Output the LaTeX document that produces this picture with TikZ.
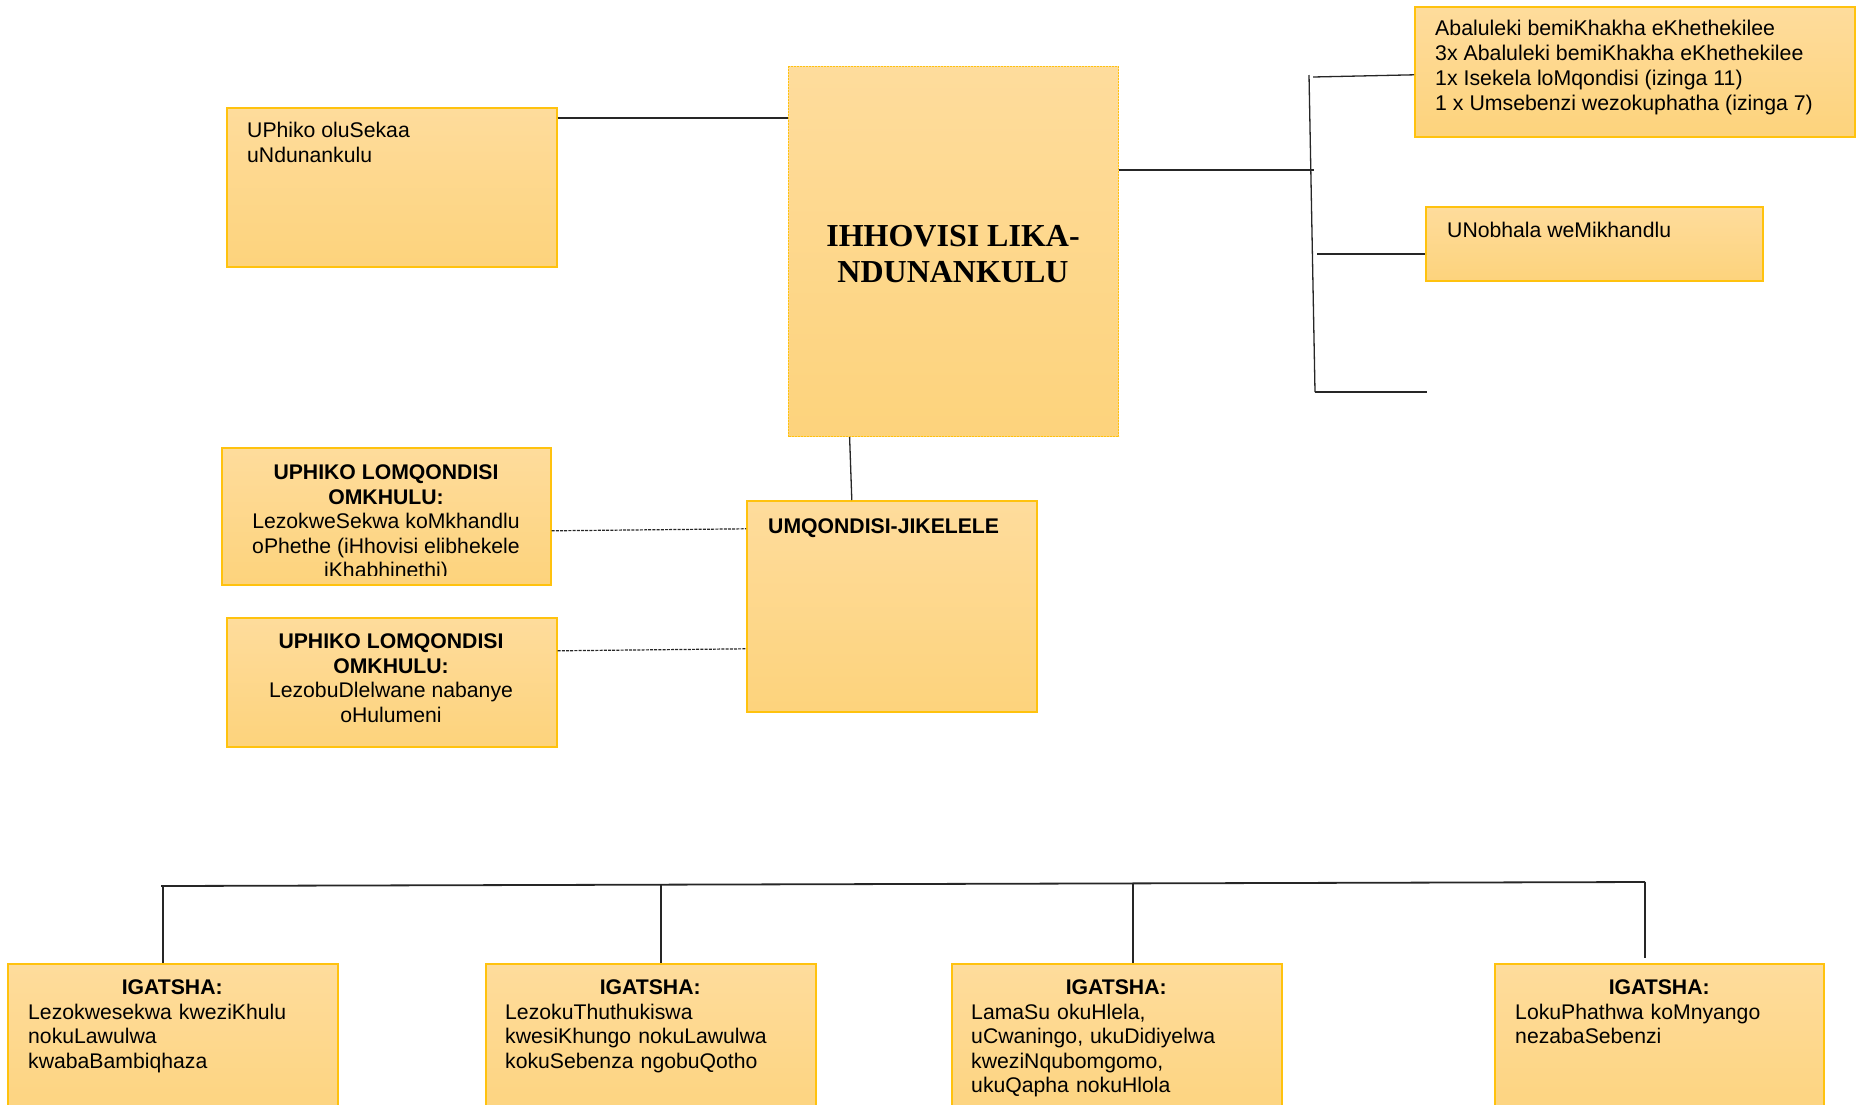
\documentclass[tikz,border=0pt]{standalone}
\usepackage{fontspec}
\setmainfont{Liberation Sans}
\newfontfamily\titlefont{Liberation Serif}
\definecolor{boxtop}{HTML}{FEDC9C}
\definecolor{boxbot}{HTML}{FDD37C}
\definecolor{boxline}{HTML}{FFC20E}
\tikzset{
  orgbox/.style={rectangle, draw=boxline, line width=1.6pt, top color=boxtop, bottom color=boxbot, inner sep=0pt, anchor=north west},
  mainbox/.style={orgbox, line width=1.2pt, dash pattern=on 2pt off 1pt},
  txt/.style={inner sep=0pt, font=\fontsize{21.2}{24.6}\selectfont, text=black},
  ltxt/.style={txt, align=left, anchor=north west},
  ctxt/.style={txt, align=center, anchor=north},
  conn/.style={draw=black!85, line width=1.3pt},
  busline/.style={draw=black!85, line width=1.8pt},
  dashconn/.style={draw=black!85, line width=1.2pt, dash pattern=on 3pt off 1.2pt},
}
\begin{document}
\begin{tikzpicture}[x=1pt,y=-1pt]
\useasboundingbox (0,0) rectangle (1859,1104);
\clip (0,0) rectangle (1859,1104);

% boxes
\node[orgbox, minimum width=330pt, minimum height=159pt] (sekaa) at (226,107) {};
\node[mainbox, minimum width=330pt, minimum height=370pt] (main) at (788,66) {};
\node[orgbox, minimum width=440pt, minimum height=130pt] (abal) at (1414,6) {};
\node[orgbox, minimum width=337pt, minimum height=74pt] (nob) at (1425,206) {};
\node[orgbox, minimum width=329pt, minimum height=137pt] (uph1) at (221,447) {};
\node[orgbox, minimum width=330pt, minimum height=129pt] (uph2) at (226,617) {};
\node[orgbox, minimum width=290pt, minimum height=211pt] (umq) at (746,500) {};
\node[orgbox, minimum width=330pt, minimum height=170pt] (g1) at (7,963) {};
\node[orgbox, minimum width=330pt, minimum height=170pt] (g2) at (485,963) {};
\node[orgbox, minimum width=330pt, minimum height=170pt] (g3) at (951,963) {};
\node[orgbox, minimum width=329pt, minimum height=170pt] (g4) at (1494,963) {};

% texts
\node[ltxt] (sekaat) at (247,122) {UPhiko oluSekaa\\uNdunankulu};
\node[txt, align=center, anchor=north, font=\titlefont\bfseries\fontsize{32}{36}\selectfont] (maint) at (953,225) {IHHOVISI LIKA-\\NDUNANKULU};
\node[ltxt, font=\fontsize{21.3}{24.8}\selectfont] (abalt) at (1435,20) {Abaluleki bemiKhakha eKhethekilee\\3x Abaluleki bemiKhakha eKhethekilee\\1x Isekela loMqondisi (izinga 11)\\1 x Umsebenzi wezokuphatha (izinga 7)};
\node[ltxt] (nobt) at (1447,222) {UNobhala weMikhandlu};
\begin{scope}
  \clip (uph1.north west) rectangle ([yshift=10pt]uph1.south east);
  \node[ctxt] (uph1t) at (386,464.5) {\textbf{UPHIKO LOMQONDISI}\\\textbf{OMKHULU:}\\LezokweSekwa koMkhandlu\\oPhethe (iHhovisi elibhekele\\iKhabhinethi)};
\end{scope}
\node[ctxt] (uph2t) at (391,633.5) {\textbf{UPHIKO LOMQONDISI}\\\textbf{OMKHULU:}\\LezobuDlelwane nabanye\\oHulumeni};
\node[ltxt] (umqt) at (768,518.5) {\textbf{UMQONDISI-JIKELELE}};
\node[ltxt, text width=290pt] (g1t) at (28,979.5) {\makebox[288pt][c]{\textbf{IGATSHA:}}\\Lezokwesekwa kweziKhulu\\nokuLawulwa\\kwabaBambiqhaza};
\node[ltxt, text width=290pt] (g2t) at (505,979.5) {\makebox[290pt][c]{\textbf{IGATSHA:}}\\LezokuThuthukiswa\\kwesiKhungo nokuLawulwa\\kokuSebenza ngobuQotho};
\node[ltxt, text width=290pt] (g3t) at (971,979.5) {\makebox[290pt][c]{\textbf{IGATSHA:}}\\LamaSu okuHlela,\\uCwaningo, ukuDidiyelwa\\kweziNqubomgomo,\\ukuQapha nokuHlola};
\node[ltxt, text width=290pt] (g4t) at (1515,979.5) {\makebox[288pt][c]{\textbf{IGATSHA:}}\\LokuPhathwa koMnyango\\nezabaSebenzi};

% connectors
\coordinate (c1) at ([yshift=-11pt]sekaa.north east);
\draw[conn] (c1) -- (c1 -| main.west);

\coordinate (brT) at (1309,75);
\coordinate (brB) at (1315,392);
\coordinate (brT2) at (1313,77);
\coordinate (brM) at (1314,170);
\coordinate (brN) at (1317,254);
\coordinate (brE) at (1427,392);
\draw[conn] (brT) -- (brB);
\draw[conn] (brT2) -- ([yshift=-3pt]abal.west);
\draw[conn] (main.east |- brM) -- (brM);
\draw[conn] (brN) -- (brN -| nob.west);
\draw[conn] (brB) -- (brE);

\draw[conn] ([xshift=-104pt]main.south) -- ([xshift=-40pt]umq.north);

\draw[dashconn] ([yshift=-14.5pt]uph1.east) -- ([yshift=77.5pt]umq.west);
\draw[dashconn] ([yshift=31.5pt]uph2.east) -- ([yshift=-42.5pt]umq.west);

\coordinate (busL) at (161,886);
\coordinate (busR) at (1645,882);
\coordinate (t1) at (163,886);
\coordinate (t2) at (661,884.7);
\coordinate (t3) at (1133,883.4);
\coordinate (t4e) at (1645,958);
\draw[busline] (busL) -- (busR);
\draw[conn] (t1) -- (t1 |- g1.north);
\draw[conn] (t2) -- (t2 |- g2.north);
\draw[conn] (t3) -- (t3 |- g3.north);
\draw[conn] (busR) -- (t4e);
\end{tikzpicture}
\end{document}
